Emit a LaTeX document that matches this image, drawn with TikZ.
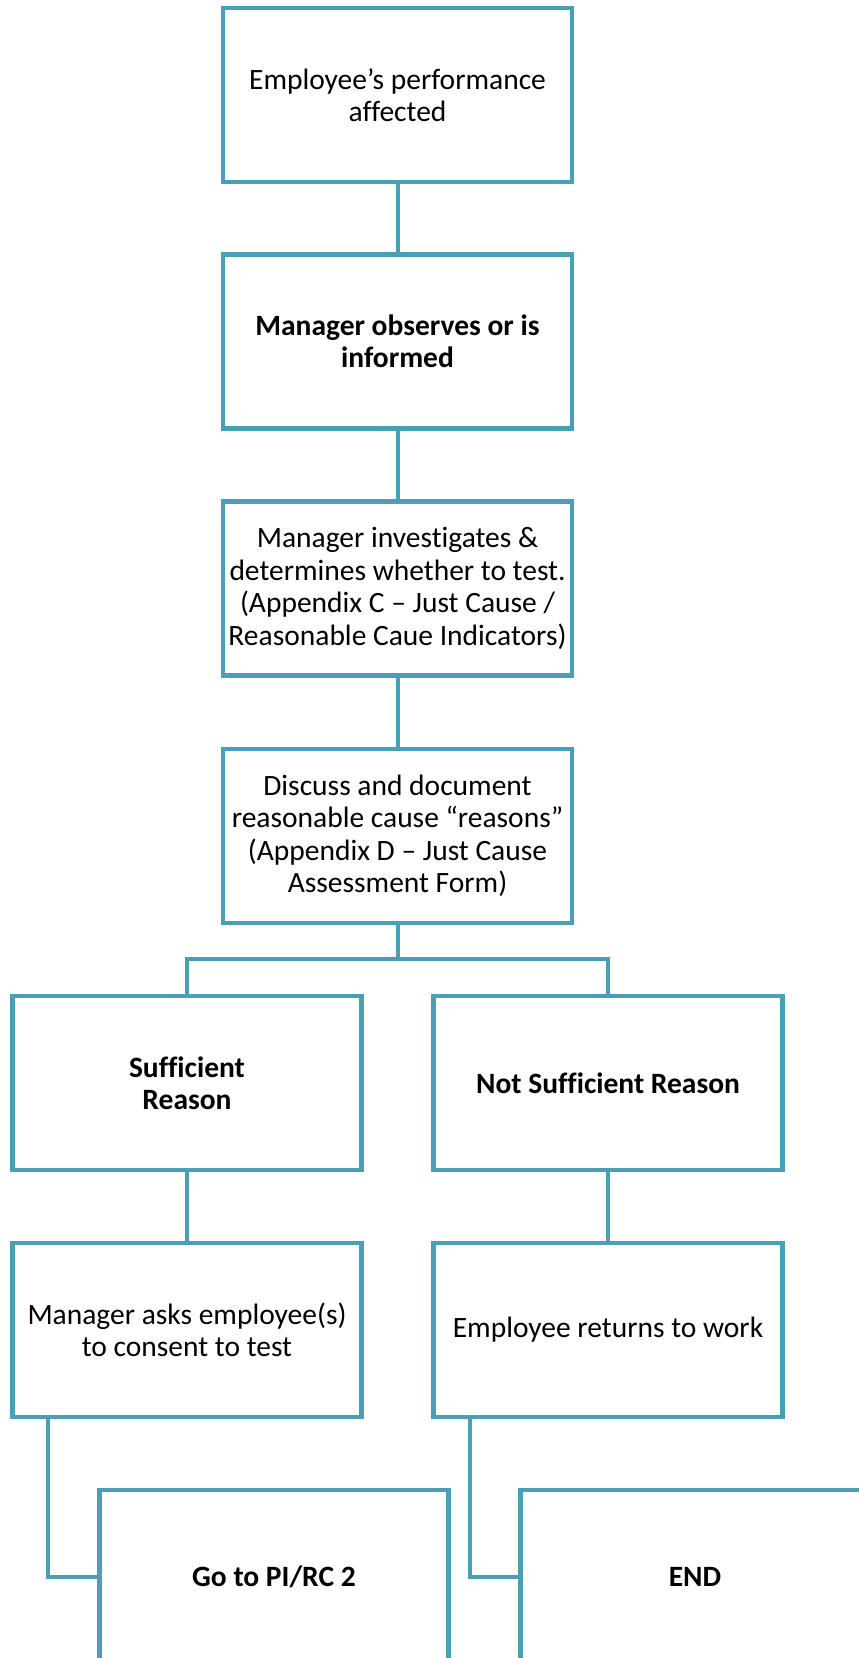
\documentclass[tikz,border=0pt]{standalone}
\usepackage{fontspec}
\setmainfont[Ligatures=NoCommon]{Carlito}
\definecolor{teal}{RGB}{74,158,181}
\begin{document}
\begin{tikzpicture}[x=1pt,y=1pt,
  box/.style={draw=teal, line width=4.5pt, fill=white, rectangle, align=center,
    minimum width=349pt, minimum height=174pt, inner sep=0pt,
    font=\fontsize{29.5pt}{32.5pt}\selectfont},
  bbox/.style={box, font=\fontsize{29.5pt}{32.5pt}\selectfont\bfseries},
  conn/.style={draw=teal, line width=4pt}]
\useasboundingbox (0,0) rectangle (859,-1658);
\clip (0,0) rectangle (859,-1658);
\fill[white] (0,0) rectangle (859,-1658);
\node[box] (b1) at (397.5,-95) {Employee’s performance\\affected};
\node[bbox] (b2) at (397.5,-341.5) {Manager observes or is\\informed};
\node[box] (b3) at (397.5,-588.5) {Manager investigates \&\\determines whether to test.\\(Appendix C – Just Cause /\\Reasonable Caue Indicators)};
\node[box] (b4) at (397.5,-836) {Discuss and document\\reasonable cause “reasons”\\(Appendix D – Just Cause\\Assessment Form)};
\node[bbox] (b5) at (187,-1083) {Sufficient\\Reason};
\node[bbox] (b6) at (608,-1083) {Not Sufficient Reason};
\node[box] (b7) at (187,-1330) {Manager asks employee(s)\\to consent to test};
\node[box] (b8) at (608,-1330) {Employee returns to work};
\node[bbox] (b9) at (274,-1577) {Go to PI/RC 2};
\node[bbox] (b10) at (695,-1577) {END};
\coordinate (br) at (397.5,-959);
\draw[conn] (b1.south) -- (b2.north);
\draw[conn] (b2.south) -- (b3.north);
\draw[conn] (b3.south) -- (b4.north);
\draw[conn] (b4.south) -- (br);
\draw[conn] (b5.north) |- (br) -| (b6.north);
\draw[conn] (b5.south) -- (b7.north);
\draw[conn] (b6.south) -- (b8.north);
\draw[conn] ([xshift=-139pt]b7.south) |- (b9.west);
\draw[conn] ([xshift=-138pt]b8.south) |- (b10.west);
\end{tikzpicture}
\end{document}
